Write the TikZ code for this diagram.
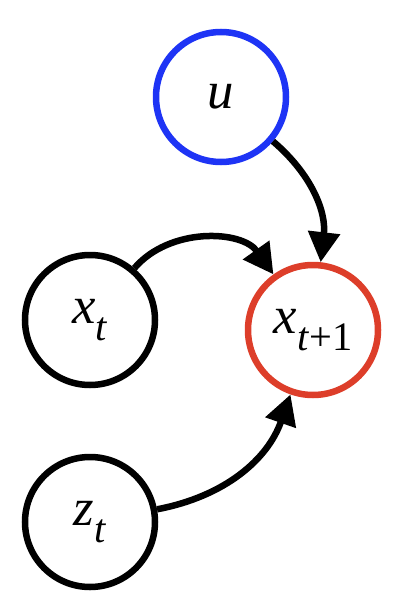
\documentclass[tikz,border=0pt]{standalone}
\usepackage{fontspec}
\setmainfont{Liberation Serif}
\usepackage{tikz}
\usetikzlibrary{arrows.meta}
\definecolor{royalblue}{RGB}{30, 52, 245}
\definecolor{cinnabar}{RGB}{221, 62, 42}
\newcommand{\lowsub}[1]{\raisebox{-0.33em}{\fontsize{23}{27}\selectfont #1}}
\tikzset{
    var/.style={circle, draw=black, line width=0.13cm, minimum size=2.6cm, inner sep=0pt,
                font=\fontsize{30}{36}\selectfont},
    link/.style={line width=0.13cm, -{Triangle[length=0.6cm,width=0.62cm]}}
}

\begin{document}
\begin{tikzpicture}
        \useasboundingbox (0.00, 0.00) rectangle (8.08,-12.24);
        \node[var, draw=royalblue] (u)   at (4.42, -1.94) {\textit{u}};
        \node[var]                 (xt)  at (1.80, -6.40) {\textit{x}\lowsub{\textit{t}}};
        \node[var, draw=cinnabar]  (xt1) at (6.26, -6.60) {\textit{x}\lowsub{\textit{t}+1}};
        \node[var]                 (zt)  at (1.80,-10.44) {\textit{z}\lowsub{\textit{t}}};
        \draw[link] (u)  to[bend left=28]  (xt1);
        \draw[link] (xt) to[bend left=52]  (xt1);
        \draw[link] (zt) to[bend right=30] (xt1);
\end{tikzpicture}
\end{document}
